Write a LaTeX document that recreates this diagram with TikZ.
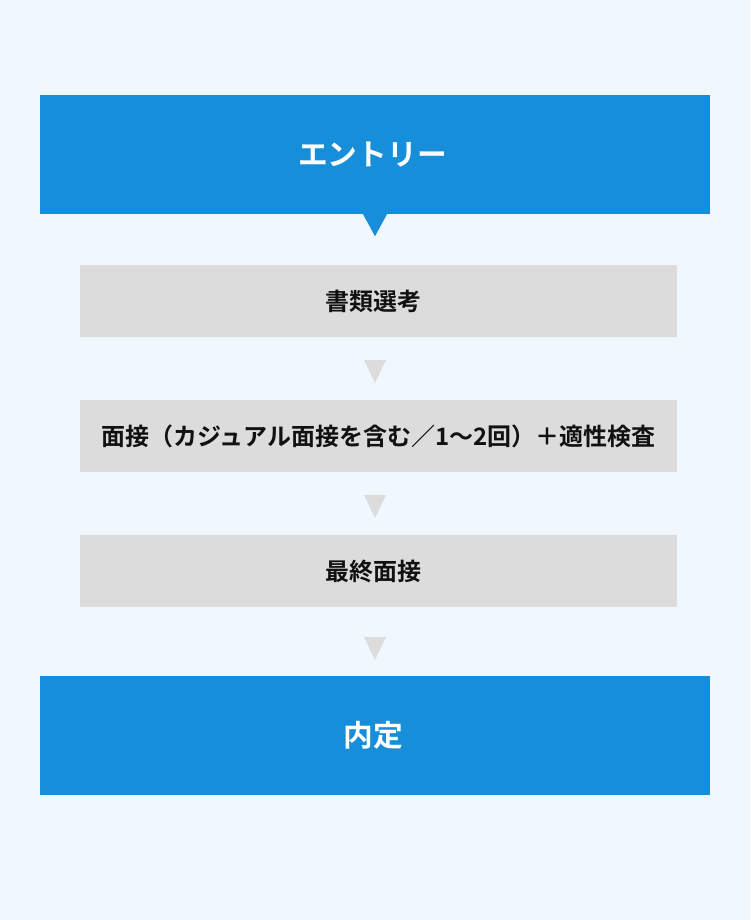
\documentclass[tikz,border=0pt]{standalone}
\usepackage{fontspec}
\newfontfamily\jp{Noto Sans CJK JP}[BoldFont={* Bold}]
\definecolor{bgc}{HTML}{F0F8FE}
\definecolor{bluec}{HTML}{168ED9}
\definecolor{grayc}{HTML}{DCDCDC}
\definecolor{txtc}{HTML}{111111}
\begin{document}
\begin{tikzpicture}[x=1pt,y=-1pt,
  bluebox/.style={fill=bluec,draw=none,minimum width=670pt,minimum height=119pt,inner sep=0pt},
  graybox/.style={fill=grayc,draw=none,minimum width=597pt,minimum height=72pt,inner sep=0pt},
  bluetxt/.style={inner sep=0pt,font=\jp\bfseries\fontsize{29.7}{34}\selectfont,text=white},
  graytxt/.style={inner sep=0pt,font=\jp\bfseries\fontsize{24}{28}\selectfont,text=txtc}]
\fill[bgc] (0,0) rectangle (750,920);
\useasboundingbox (0,0) rectangle (750,920);
\node[bluebox] (entry) at (375,154.5) {};
\node[graybox] (s1) at (378.5,301) {};
\node[graybox] (s2) at (378.5,436) {};
\node[graybox] (s3) at (378.5,571) {};
\node[bluebox] (naitei) at (375,735.5) {};
\node[bluetxt,xshift=-2.5pt] (entryt) at (entry.center) {エントリー};
\node[graytxt,xshift=-5pt] (s1t) at (s1.center) {書類選考};
\node[graytxt] (s2t) at (s2.center) {面接（カジュアル面接を含む／1〜2回）＋適性検査};
\node[graytxt,xshift=-5pt] (s3t) at (s3.center) {最終面接};
\node[bluetxt,xshift=-1.5pt] (naiteit) at (naitei.center) {内定};
% pointer below entry
\fill[bluec] ([xshift=-12pt]entry.south) -- ([xshift=12pt]entry.south) -- ([yshift=-22pt]entry.south) -- cycle;
% gray down triangles
\coordinate (t1) at (375,360);
\coordinate (t2) at (375,495);
\coordinate (t3) at (375,637);
\foreach \t in {t1,t2,t3} {
  \fill[grayc] ([xshift=-11pt]\t) -- ([xshift=11pt]\t) -- ([yshift=-23pt]\t) -- cycle;
}
\end{tikzpicture}
\end{document}
